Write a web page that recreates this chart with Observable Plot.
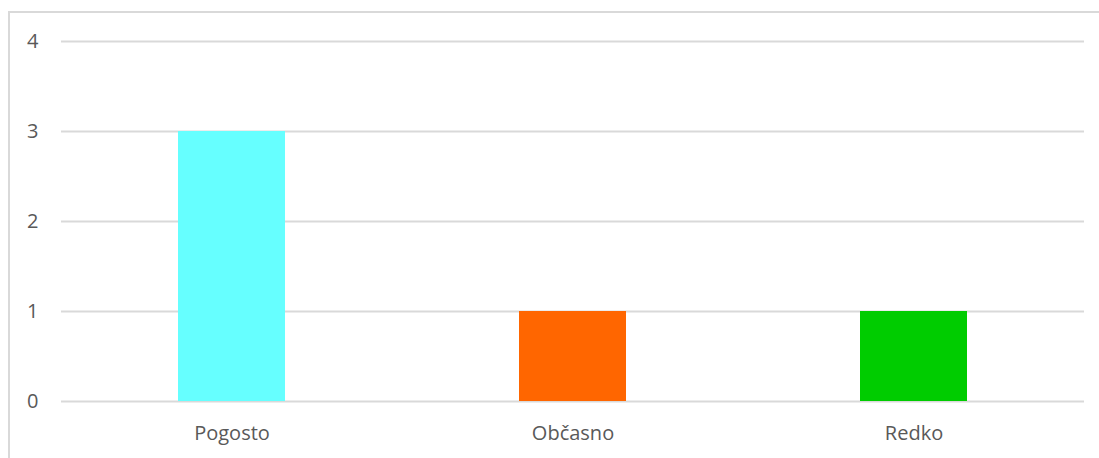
<!DOCTYPE html>
<html>
<head>
<meta charset="utf-8">
<script src="https://cdn.jsdelivr.net/npm/d3@7"></script>
<script src="https://cdn.jsdelivr.net/npm/@observablehq/plot@0.6"></script>
<style>
  html, body { margin: 0; padding: 0; background: #fff; }
  #wrap { position: relative; width: 1099px; height: 458px; overflow: hidden; }
  #border { position: absolute; left: 8px; top: 11px; width: 1200px; height: 600px; border: 2px solid #d9d9d9; box-sizing: border-box; }
  #chart { position: absolute; left: 0; top: 0; }
</style>
</head>
<body>
<div id="wrap">
  <div id="border"></div>
  <div id="chart"></div>
</div>
<script>
const categories = ["Pogosto", "Občasno", "Redko"];
const values = [3, 1, 1];
const colors = ["#66FFFF", "#FF6600", "#00CC00"];
const yTicks = [0, 1, 2, 3, 4];

const data = categories.map((c, i) => ({category: c, value: values[i], color: colors[i]}));

const chart = Plot.plot({
  width: 1099,
  height: 458,
  marginLeft: 61,
  marginRight: 15,
  marginTop: 41,
  marginBottom: 57,
  style: {fontFamily: "'Open Sans', sans-serif", fontSize: "20px", color: "#595959", background: "transparent"},
  x: {domain: categories, paddingInner: 0.686, paddingOuter: 0.343, label: null},
  y: {domain: [0, 4], label: null},
  marks: [
    Plot.gridY(yTicks, {stroke: "#d9d9d9", strokeOpacity: 1, strokeWidth: 2}),
    Plot.barY(data, {x: "category", y: "value", fill: "color"}),
    Plot.axisY(yTicks, {tickSize: 0, tickPadding: 23, tickFormat: d3.format("d"), label: null, fill: "#595959", fontSize: 20}),
    Plot.axisX({tickSize: 0, tickPadding: 24, label: null, fill: "#595959", fontSize: 20})
  ]
});
document.getElementById("chart").appendChild(chart);
</script>
</body>
</html>
